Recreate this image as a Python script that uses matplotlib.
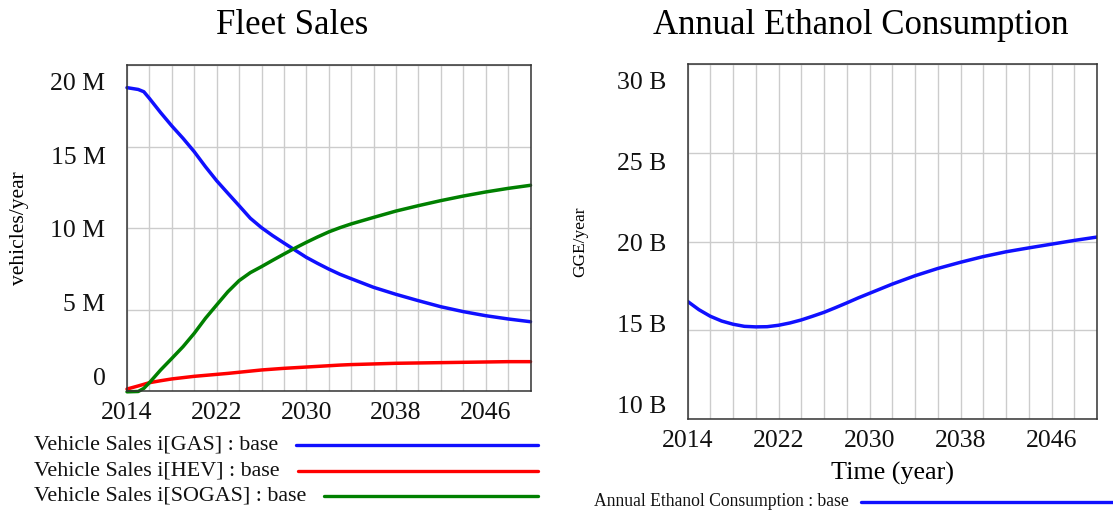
import matplotlib
matplotlib.use("Agg")
import matplotlib.pyplot as plt
from matplotlib.lines import Line2D
from matplotlib.transforms import ScaledTranslation

# ---- data -------------------------------------------------------------
years_fleet = [2014, 2015, 2015.5, 2016, 2017, 2018, 2019, 2020, 2021, 2022,
               2023, 2024, 2025, 2026, 2027, 2028, 2029, 2030, 2031, 2032,
               2033, 2034, 2036, 2038, 2040, 2042, 2044, 2046, 2048, 2050]
sales_gas = [18.61, 18.5, 18.36, 17.95, 17.08, 16.26, 15.5, 14.68, 13.76, 12.9,
             12.13, 11.37, 10.6, 10.02, 9.53, 9.08, 8.64, 8.2, 7.83, 7.48,
             7.16, 6.89, 6.36, 5.93, 5.54, 5.17, 4.87, 4.62, 4.42, 4.25]
sales_hev = [0.12, 0.31, 0.41, 0.51, 0.63, 0.74, 0.82, 0.9, 0.96, 1.02,
             1.08, 1.15, 1.22, 1.29, 1.34, 1.39, 1.43, 1.47, 1.51, 1.55,
             1.59, 1.62, 1.66, 1.7, 1.72, 1.74, 1.76, 1.78, 1.8, 1.8]
sales_sogas = [-0.05, -0.03, 0.16, 0.51, 1.29, 2.0, 2.72, 3.54, 4.46, 5.28,
               6.09, 6.77, 7.26, 7.63, 8.02, 8.4, 8.77, 9.12, 9.45, 9.76,
               10.02, 10.25, 10.65, 11.04, 11.37, 11.68, 11.96, 12.21, 12.43, 12.62]

years_eth = [2014, 2015, 2016, 2017, 2018, 2019, 2020, 2021, 2022, 2023,
             2024, 2025, 2026, 2027, 2028, 2029, 2030, 2032, 2034, 2036,
             2038, 2040, 2042, 2044, 2046, 2048, 2050]
ethanol = [16.63, 16.16, 15.79, 15.52, 15.34, 15.22, 15.19, 15.2, 15.28, 15.41,
           15.58, 15.79, 16.01, 16.27, 16.54, 16.82, 17.08, 17.6, 18.07, 18.48,
           18.83, 19.15, 19.42, 19.64, 19.85, 20.06, 20.25]

x_ticks = [2014, 2022, 2030, 2038, 2046]
fleet_ticks = [0, 5, 10, 15, 20]
fleet_tick_labels = ["0", "5 M", "10 M", "15 M", "20 M"]
eth_ticks = [10, 15, 20, 25, 30]
eth_tick_labels = ["10 B", "15 B", "20 B", "25 B", "30 B"]

fleet_series = [
    ("Vehicle Sales i[GAS] : base", sales_gas, "#1010ff"),
    ("Vehicle Sales i[HEV] : base", sales_hev, "#ff0000"),
    ("Vehicle Sales i[SOGAS] : base", sales_sogas, "#008000"),
]
eth_label = "Annual Ethanol Consumption : base"

# ---- figure -----------------------------------------------------------
plt.rcParams["font.family"] = ["Liberation Serif", "DejaVu Serif"]
W, H = 1113, 512
fig = plt.figure(figsize=(W / 100, H / 100), dpi=100)
fig.patch.set_facecolor("white")


def px_axes(x0, y0, x1, y1):
    return fig.add_axes([x0 / W, 1 - y1 / H, (x1 - x0) / W, (y1 - y0) / H])


def style_axes(ax, yticks, ylabels):
    ax.set_xlim(2014, 2050)
    ax.set_xticks(range(2014, 2051, 2), minor=True)
    ax.set_xticks(x_ticks)
    ax.set_yticks(yticks)
    ax.set_yticklabels(ylabels)
    ax.grid(True, which="both", color="#cccccc", linewidth=1.0)
    ax.set_axisbelow(True)
    ax.tick_params(axis="both", which="both", length=0, labelsize=18.5,
                   colors="#111111")
    ax.tick_params(axis="x", pad=8)
    ax.tick_params(axis="y", pad=15.5)
    for s in ax.spines.values():
        s.set_color("#333333")
        s.set_linewidth(1.1)
    # tick labels sit slightly pulled toward the middle of the axis
    n = len(yticks)
    for i, lab in enumerate(ax.get_yticklabels()):
        dy = -(i - (n - 1) / 2) * 5.6 - 0.6
        lab.set_transform(lab.get_transform() +
                          ScaledTranslation(0, dy / 72, fig.dpi_scale_trans))


# Fleet Sales
ax1 = px_axes(127, 65, 530.5, 391)
for name, vals, col in fleet_series:
    ax1.plot(years_fleet, vals, color=col, linewidth=2.5,
             solid_capstyle="round", clip_on=False)
ax1.set_ylim(0, 20)
style_axes(ax1, fleet_ticks, fleet_tick_labels)
ax1.set_ylabel("vehicles/year", fontsize=15.5, va="center")
ax1.yaxis.set_label_coords((19.5 - 127) / (530.5 - 127), 0.5)

# Annual Ethanol Consumption
ax2 = px_axes(687.5, 64, 1097, 419)
ax2.plot(years_eth, ethanol, color="#1010ff", linewidth=2.5,
         solid_capstyle="round")
ax2.set_ylim(10, 30)
style_axes(ax2, eth_ticks, eth_tick_labels)
ax2.set_ylabel("GGE/year", fontsize=12.5, va="center")
ax2.yaxis.set_label_coords((580 - 687.5) / (1097 - 687.5), 0.5)
ax2.set_xlabel("Time (year)", fontsize=18.8)
ax2.xaxis.set_label_coords(0.5, (419 - 473) / (419 - 64))
ax2.xaxis.label.set_va("center")

# titles
fig.text(292 / W, 1 - 25 / H, "Fleet Sales", fontsize=25,
         ha="center", va="center")
fig.text(861 / W, 1 - 25 / H, "Annual Ethanol Consumption", fontsize=25,
         ha="center", va="center")

# legends: label text followed by a line sample
fig.canvas.draw()
renderer = fig.canvas.get_renderer()
rows = [445, 471, 496]
for (name, vals, col), yy in zip(fleet_series, rows):
    t = fig.text(34 / W, 1 - yy / H, name, fontsize=15.8,
                 ha="left", va="center", color="#111111")
    bb = t.get_window_extent(renderer)
    fig.add_artist(Line2D([(bb.x1 + 18) / W, 538 / W], [1 - yy / H] * 2,
                          transform=fig.transFigure, color=col,
                          linewidth=2.4, solid_capstyle="round"))

t = fig.text(594 / W, 1 - 501 / H, eth_label, fontsize=12.7,
             ha="left", va="center", color="#111111")
bb = t.get_window_extent(renderer)
fig.add_artist(Line2D([(bb.x1 + 12) / W, 1113 / W], [1 - 502 / H] * 2,
                      transform=fig.transFigure, color="#1010ff",
                      linewidth=2.4, solid_capstyle="round"))

fig.savefig("out.png", dpi=100, facecolor="white")
